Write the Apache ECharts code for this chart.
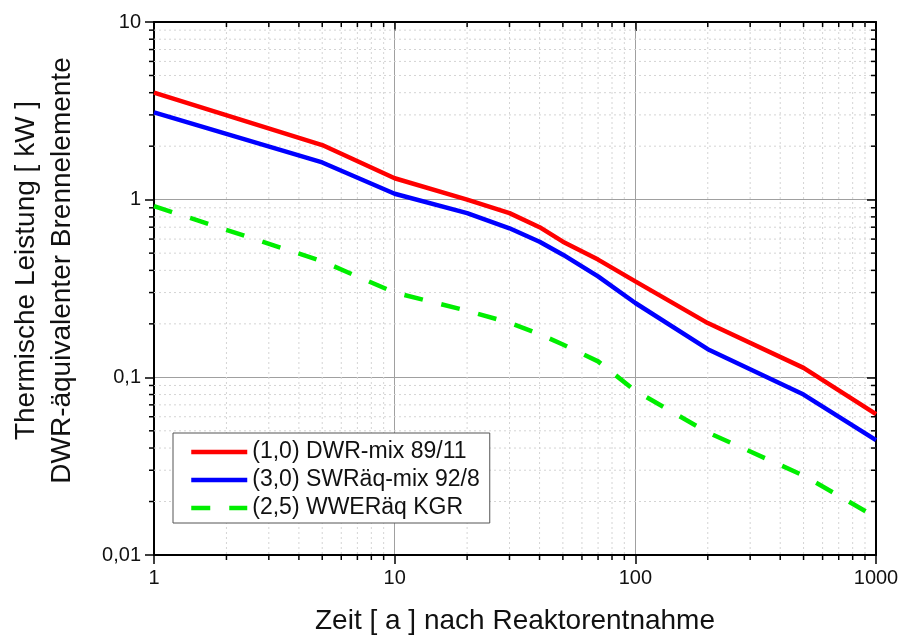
<!DOCTYPE html>
<html>
<head>
<meta charset="utf-8">
<script src="https://cdn.jsdelivr.net/npm/echarts@6/dist/echarts.min.js"></script>
<style>html,body{margin:0;padding:0;background:#fff}#c{width:902px;height:640px}</style>
</head>
<body>
<div id="c"></div>
<script>
// ---- data ----
const years = [1, 5, 10, 20, 30, 40, 50, 70, 100, 200, 500, 1000];
const dwrMix = [4.0, 2.03, 1.32, 1.0, 0.84, 0.70, 0.58, 0.46, 0.347, 0.202, 0.113, 0.062];
const swrMix = [3.1, 1.62, 1.08, 0.84, 0.69, 0.58, 0.49, 0.37, 0.262, 0.144, 0.080, 0.0443];
const wwerKgr = [0.92, 0.45, 0.30, 0.237, 0.203, 0.175, 0.153, 0.123, 0.084, 0.049, 0.028, 0.0163];
const seriesNames = ['(1,0) DWR-mix 89/11', '(3,0) SWRäq-mix 92/8', '(2,5) WWERäq KGR'];
const xMinorTicks = [2,3,4,5,6,7,8,9,20,30,40,50,60,70,80,90,200,300,400,500,600,700,800,900];
const yMinorTicks = [0.02,0.03,0.04,0.05,0.06,0.07,0.08,0.09,0.2,0.3,0.4,0.5,0.6,0.7,0.8,0.9,2,3,4,5,6,7,8,9];
const xTitle = 'Zeit [ a ] nach Reaktorentnahme';
const yTitle = 'Thermische Leistung [ kW ]\nDWR-äquivalenter Brennelemente';

const pair = (xs, ys) => xs.map((x, i) => [x, ys[i]]);
const FONT = '"Liberation Sans", Arial, sans-serif';

const chart = echarts.init(document.getElementById('c'), null, {renderer: 'canvas'});

function xMinorRender(params, api) {
  const cs = params.coordSys;
  const x = api.coord([api.value(0), 1])[0];
  const top = cs.y, bot = cs.y + cs.height;
  return {type: 'group', children: [
    {type: 'line', shape: {x1: x, y1: top, x2: x, y2: bot}, style: {stroke: '#d4d4d4', lineWidth: 1, lineDash: [2, 3]}},
    {type: 'line', shape: {x1: x, y1: bot, x2: x, y2: bot + 5}, style: {stroke: '#000', lineWidth: 1.5}},
    {type: 'line', shape: {x1: x, y1: top, x2: x, y2: top + 5}, style: {stroke: '#000', lineWidth: 1.5}}
  ]};
}
function yMinorRender(params, api) {
  const cs = params.coordSys;
  const y = api.coord([1, api.value(1)])[1];
  const l = cs.x, r = cs.x + cs.width;
  return {type: 'group', children: [
    {type: 'line', shape: {x1: l, y1: y, x2: r, y2: y}, style: {stroke: '#d4d4d4', lineWidth: 1, lineDash: [2, 3]}},
    {type: 'line', shape: {x1: l - 5, y1: y, x2: l, y2: y}, style: {stroke: '#000', lineWidth: 1.5}},
    {type: 'line', shape: {x1: r - 5, y1: y, x2: r, y2: y}, style: {stroke: '#000', lineWidth: 1.5}}
  ]};
}

const axisLine = {show: true, lineStyle: {color: '#000', width: 2}};

chart.setOption({
  animation: false,
  backgroundColor: '#fff',
  textStyle: {fontFamily: FONT},
  grid: {left: 152, right: 26, top: 22, bottom: 85},
  legend: {
    data: seriesNames,
    orient: 'vertical',
    left: 173, top: 433,
    padding: [7, 10, 3, 16],
    borderColor: '#555', borderWidth: 1,
    backgroundColor: '#fff',
    itemWidth: 56, itemHeight: 24, itemGap: 4,
    itemStyle: {opacity: 0},
    lineStyle: {width: 4.5},
    textStyle: {fontSize: 23, color: '#111', fontFamily: FONT, lineHeight: 24}
  },
  xAxis: [{
    type: 'log', logBase: 10, min: 1, max: 1000, position: 'bottom',
    name: xTitle, nameLocation: 'middle', nameGap: 52,
    nameTextStyle: {fontSize: 28, color: '#111', fontFamily: FONT},
    axisLine: axisLine,
    axisTick: {show: true, inside: false, length: 9, lineStyle: {color: '#000', width: 1.5}},
    axisLabel: {fontSize: 20, color: '#111', margin: 13, fontFamily: FONT,
      formatter: v => String(v)},
    splitLine: {show: true, lineStyle: {color: '#a0a0a0', width: 1}},
    minorTick: {show: false}, minorSplitLine: {show: false}
  }, {
    type: 'log', logBase: 10, min: 1, max: 1000, position: 'top',
    axisLine: axisLine,
    axisTick: {show: true, inside: true, length: 9, lineStyle: {color: '#000', width: 1.5}},
    axisLabel: {show: false}, splitLine: {show: false}
  }],
  yAxis: [{
    type: 'log', logBase: 10, min: 0.01, max: 10, position: 'left',
    name: yTitle, nameLocation: 'middle', nameGap: 74, nameRotate: 90,
    nameTextStyle: {fontSize: 28, color: '#111', fontFamily: FONT, lineHeight: 36, padding: [0, 0, 0, 36]},
    axisLine: axisLine,
    axisTick: {show: true, inside: false, length: 9, lineStyle: {color: '#000', width: 1.5}},
    axisLabel: {fontSize: 20, color: '#111', margin: 13, fontFamily: FONT,
      formatter: v => String(v).replace('.', ',')},
    splitLine: {show: true, lineStyle: {color: '#a0a0a0', width: 1}}
  }, {
    type: 'log', logBase: 10, min: 0.01, max: 10, position: 'right',
    axisLine: axisLine,
    axisTick: {show: true, inside: true, length: 9, lineStyle: {color: '#000', width: 1.5}},
    axisLabel: {show: false}, splitLine: {show: false}
  }],
  series: [
    {type: 'custom', name: 'xminor', z: 1, silent: true, clip: false, renderItem: xMinorRender,
     data: xMinorTicks.map(v => [v, 1])},
    {type: 'custom', name: 'yminor', z: 1, silent: true, clip: false, renderItem: yMinorRender,
     data: yMinorTicks.map(v => [1, v])},
    {type: 'line', name: seriesNames[0], data: pair(years, dwrMix), symbol: 'none', z: 5,
     lineStyle: {color: '#ff0000', width: 4.5}, itemStyle: {color: '#ff0000'}},
    {type: 'line', name: seriesNames[1], data: pair(years, swrMix), symbol: 'none', z: 5,
     lineStyle: {color: '#0000ff', width: 4.5}, itemStyle: {color: '#0000ff'}},
    {type: 'line', name: seriesNames[2], data: pair(years, wwerKgr), symbol: 'none', z: 5,
     lineStyle: {color: '#00ee00', width: 4.5, type: [19, 19]}, itemStyle: {color: '#00ee00'}}
  ]
});
</script>
</body>
</html>
